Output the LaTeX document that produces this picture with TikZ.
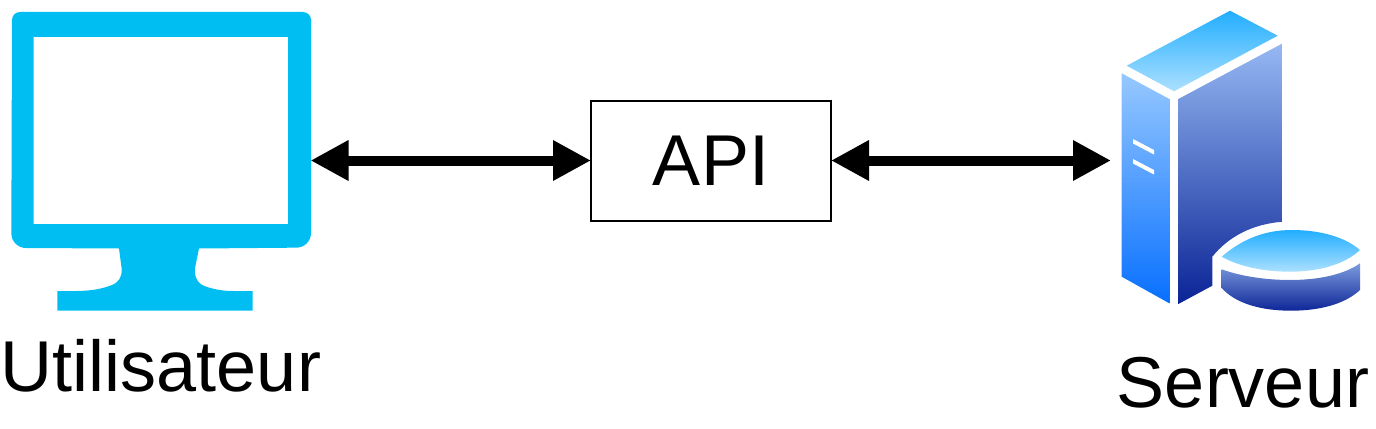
\documentclass[tikz,border=0pt]{standalone}
\usepackage{fontspec}
\setmainfont{Liberation Sans}
\usetikzlibrary{arrows.meta}
\definecolor{screenblue}{HTML}{00BEF2}
\tikzset{
	bigtext/.style={font=\fontsize{54}{60}\selectfont,anchor=base,inner sep=0pt},
	twoway/.style={line width=7.5pt,{Triangle[length=28.5pt,width=28.5pt]}-{Triangle[length=28.5pt,width=28.5pt]}},
	topface/.style={shade,top color={rgb,255:red,34;green,174;blue,255},bottom color={rgb,255:red,172;green,224;blue,255}},
	leftface/.style={shade,top color={rgb,255:red,150;green,200;blue,255},bottom color={rgb,255:red,8;green,112;blue,255}},
	rightface/.style={shade,top color={rgb,255:red,150;green,184;blue,242},bottom color={rgb,255:red,10;green,36;blue,150}},
	diskside/.style={shade,top color={rgb,255:red,124;green,156;blue,222},bottom color={rgb,255:red,14;green,38;blue,152}}
}
\begin{document}
\begin{tikzpicture}[x=.75pt,y=-.75pt]
\useasboundingbox (0,0) rectangle (1376,428);
% monitor
\fill[screenblue,even odd rule] (20,12) -- (303,12) arc[start angle=90,end angle=0,radius=6pt] -- (311,233)
	arc[start angle=0,end angle=-90,radius=11pt] -- (199,248.5) -- (195,268)
	.. controls (194,280) and (200,285) .. (207,287) .. controls (217,290) and (225,291) .. (233,291)
	-- (252.7,291) -- (252.7,310.7) -- (57.3,310.7) -- (57.3,291) -- (76,291)
	.. controls (90,291) and (102,289) .. (112,285) .. controls (119,282) and (122,277) .. (121.7,269)
	-- (119,248.5) -- (26,248) arc[start angle=270,end angle=180,radius=11pt] -- (12,20)
	arc[start angle=180,end angle=90,radius=6pt] -- cycle
	(33.7,37) rectangle (288,224);
\node[minimum width=224.25pt,minimum height=224.25pt,inner sep=0pt,outer sep=0pt] (monitor) at (161,160.5) {};
\node[bigtext] (userlabel) at (161,391.5) {Utilisateur};
% api box
\node[draw,line width=1.5pt,minimum width=180pt,minimum height=90pt,inner sep=0pt,outer sep=0pt,
	font=\fontsize{54}{60}\selectfont] (api) at (711,160.5) {API};
% server
\path[topface] (1230,10.7) -- (1277.7,35.7) -- (1174,91.3) -- (1126.7,65.7) -- cycle;
\path[leftface] (1121.7,73.3) -- (1169.3,99) -- (1169.3,303.3) -- (1121.7,276.7) -- cycle;
\path[rightface] (1178.3,99) -- (1282.7,43.3) -- (1282.7,221.7)
	.. controls (1252,224) and (1228,237) .. (1212.3,256.7) -- (1212.3,285.7) -- (1178.3,304) -- cycle;
\path[topface] (1221.7,256.7) .. controls (1240,241) and (1262,230) .. (1292,230)
	.. controls (1320,230) and (1345,237) .. (1360,250)
	.. controls (1345,264) and (1320,271.7) .. (1290,271.7)
	.. controls (1265,271.7) and (1240,267) .. (1221.7,256.7) -- cycle;
\path[diskside] (1221.7,269.3) .. controls (1240,276) and (1265,280) .. (1290,280)
	.. controls (1320,280) and (1345,274) .. (1360,263.3) -- (1360,290)
	.. controls (1345,304) and (1320,310.7) .. (1291,310.7)
	.. controls (1260,310.7) and (1235,303) .. (1221.7,288) -- cycle;
\foreach \y in {141,161}
	\fill[white] (1133,\y-2) -- (1154,\y+9) -- (1154,\y+13.5) -- (1133,\y+2.5) -- cycle;
\node[minimum width=1pt,minimum height=224.25pt,inner sep=0pt,outer sep=0pt,anchor=west] (server) at (1111,160.5) {};
\node[bigtext] (serverlabel) at (1243,407) {Serveur};
% links
\draw[twoway] (monitor.east) -- (api.west);
\draw[twoway] (api.east) -- (server.west);
\end{tikzpicture}
\end{document}
